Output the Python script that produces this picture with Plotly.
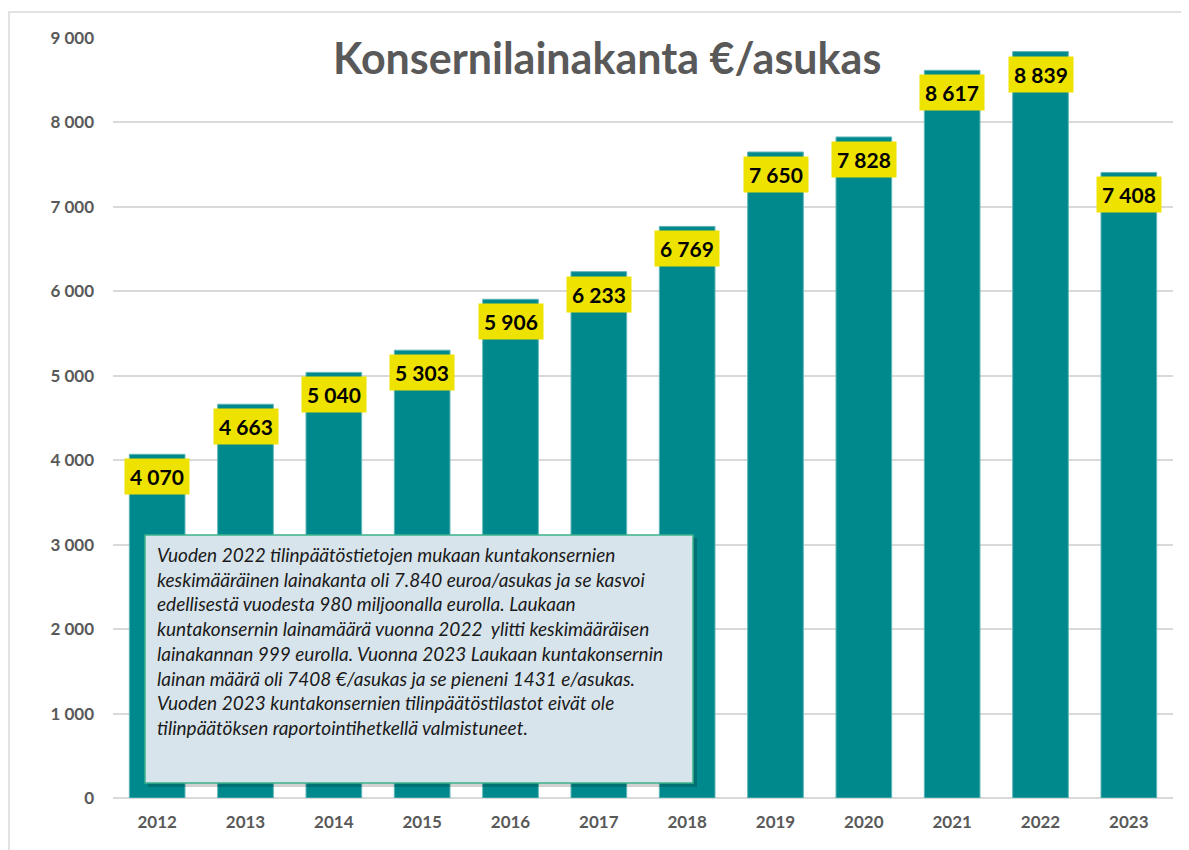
import plotly.graph_objects as go

years = ["2012", "2013", "2014", "2015", "2016", "2017", "2018", "2019", "2020", "2021", "2022", "2023"]
values = [4070, 4663, 5040, 5303, 5906, 6233, 6769, 7650, 7828, 8617, 8839, 7408]
tick_vals = [0, 1000, 2000, 3000, 4000, 5000, 6000, 7000, 8000, 9000]
tick_text = ["0", "1 000", "2 000", "3 000", "4 000", "5 000", "6 000", "7 000", "8 000", "9 000"]
title_text = "Konsernilainakanta €/asukas"
note_lines = [
    "Vuoden 2022 tilinpäätöstietojen mukaan kuntakonsernien",
    "keskimääräinen lainakanta oli 7.840 euroa/asukas ja se kasvoi",
    "edellisestä vuodesta 980 miljoonalla eurolla. Laukaan",
    "kuntakonsernin lainamäärä vuonna 2022  ylitti keskimääräisen",
    "lainakannan 999 eurolla. Vuonna 2023 Laukaan kuntakonsernin",
    "lainan määrä oli 7408 €/asukas ja se pieneni 1431 e/asukas.",
    "Vuoden 2023 kuntakonsernien tilinpäätöstilastot eivät ole",
    "tilinpäätöksen raportointihetkellä valmistuneet.",
]

# page has an 8px body margin; figure placed at (8, 8)
OFF = 8
W, H = 1181, 842
ML, MR, MT, MB = 105, 16, 30, 52
PW, PH = W - ML - MR, H - MT - MB


def px(x):
    """page x pixel -> paper fraction"""
    return (x - OFF - ML) / PW


def py(y):
    """page y pixel -> paper fraction"""
    return (H - MB - (y - OFF)) / PH


def fmt(v):
    return f"{v:,}".replace(",", " ")


fig = go.Figure()
fig.add_trace(go.Bar(
    x=years, y=values, width=0.63,
    marker=dict(color="#00898C", line=dict(color="#5FB5B7", width=1)),
    hoverinfo="x+y", showlegend=False,
))

# category index positions for annotations (category axis)
for i, v in enumerate(values):
    fig.add_annotation(
        x=i, y=v, xref="x", yref="y", text=f"<b>{fmt(v)}</b>",
        showarrow=False, yanchor="top", yshift=-4,
        bgcolor="#EEE300", borderpad=5,
        font=dict(family="Lato", size=21, color="#000000"),
    )

fig.add_annotation(
    x=px(607), y=py(57), xref="paper", yref="paper",
    text=f"<b>{title_text}</b>", showarrow=False,
    font=dict(family="Lato", size=43, color="#595959"),
    xanchor="center", yanchor="middle",
)

# outer chart border (left and top visible)
fig.add_shape(type="rect", xref="paper", yref="paper",
              x0=px(9), x1=px(1200), y0=py(860), y1=py(12),
              line=dict(color="#D9D9D9", width=1.5), fillcolor="rgba(0,0,0,0)", layer="below")

# text box shadow and box
fig.add_shape(type="rect", xref="paper", yref="paper",
              x0=px(148), x1=px(697), y0=py(787), y1=py(538),
              line=dict(width=0), fillcolor="rgba(0,0,0,0.18)")
fig.add_shape(type="rect", xref="paper", yref="paper",
              x0=px(145), x1=px(693), y0=py(783), y1=py(535),
              line=dict(color="#3DB38A", width=1.5), fillcolor="#D8E4EC")

fig.add_annotation(
    x=px(155), y=py(541), xref="paper", yref="paper",
    text="<i>" + "<br>".join(note_lines) + "</i>", showarrow=False,
    xanchor="left", yanchor="top", align="left",
    font=dict(family="Lato", size=19, color="#1A1A1A"),
)

fig.update_layout(
    width=W, height=H,
    margin=dict(l=ML, r=MR, t=MT, b=MB, pad=0, autoexpand=False),
    paper_bgcolor="white", plot_bgcolor="white",
    bargap=0.37,
    xaxis=dict(
        type="category", range=[-0.5, len(years) - 0.5],
        showgrid=False, showline=False, ticks="",
        tickfont=dict(family="Lato", size=17, color="#595959", weight="bold"),
        ticklabelstandoff=12,
    ),
    yaxis=dict(
        range=[0, 9000], tickvals=tick_vals, ticktext=tick_text,
        showgrid=True, gridcolor="#D9D9D9", gridwidth=1.5,
        zeroline=True, zerolinecolor="#D9D9D9", zerolinewidth=1.5,
        tickfont=dict(family="Lato", size=17, color="#595959", weight="bold"),
        ticks="", ticklabelstandoff=18,
    ),
)

fig.write_html("out.html")
